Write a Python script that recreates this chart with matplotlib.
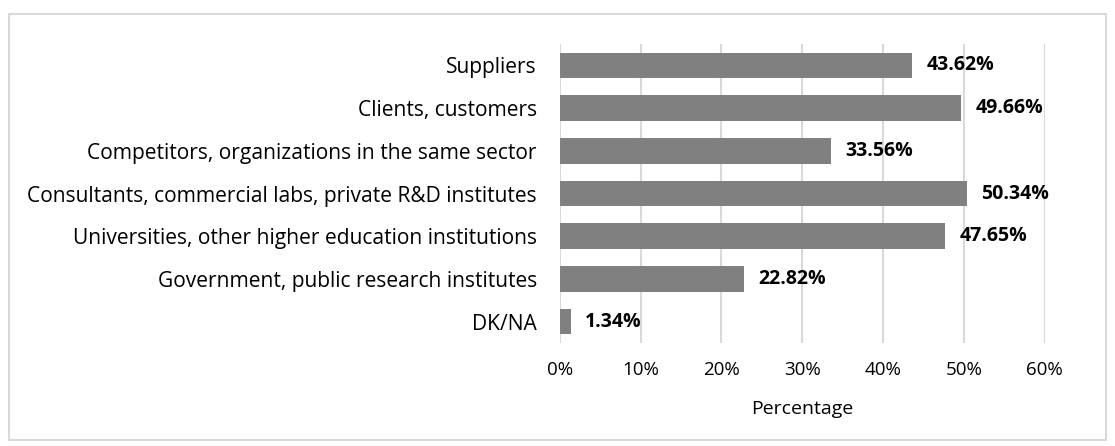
import matplotlib
matplotlib.use('Agg')
import matplotlib.pyplot as plt
from matplotlib.patches import Rectangle

categories = ['Suppliers', 'Clients, customers',
              'Competitors, organizations in the same sector',
              'Consultants, commercial labs, private R&D institutes',
              'Universities, other higher education institutions',
              'Government, public research institutes', 'DK/NA']
values = [43.62, 49.66, 33.56, 50.34, 47.65, 22.82, 1.34]
xticks = [0, 10, 20, 30, 40, 50, 60]

plt.rcParams['font.family'] = ['Open Sans', 'DejaVu Sans']

fig = plt.figure(figsize=(11.15, 4.46), dpi=100)
ax = fig.add_axes([0.502, 0.231, 0.435, 0.670])

pos = list(range(len(categories)))[::-1]
ax.barh(pos, values, height=0.6, color='#808080', zorder=3)
for p, v in zip(pos, values):
    ax.text(v + 1.8, p, '%.2f%%' % v, va='center', ha='left',
            fontsize=14, fontweight='bold', color='black')

ax.set_xlim(0, 60)
ax.set_ylim(-0.5, len(categories) - 0.5)
ax.set_yticks(pos)
ax.set_yticklabels(categories, fontsize=15.15)
ax.set_xticks(xticks)
ax.set_xticklabels(['%d%%' % t for t in xticks], fontsize=13.5)
ax.tick_params(length=0)
ax.tick_params(axis='x', pad=13)
ax.tick_params(axis='y', pad=16.5)
ax.grid(axis='x', color='#d9d9d9', linewidth=1.5, zorder=0)
for s in ax.spines.values():
    s.set_visible(False)
ax.set_xlabel('Percentage', fontsize=14, labelpad=15)

fig.patches.append(Rectangle((9 / 1115, 6 / 446), 1097 / 1115, 426 / 446,
                             transform=fig.transFigure, fill=False,
                             edgecolor='#d9d9d9', linewidth=1.5))

fig.savefig('out.png', dpi=100)
